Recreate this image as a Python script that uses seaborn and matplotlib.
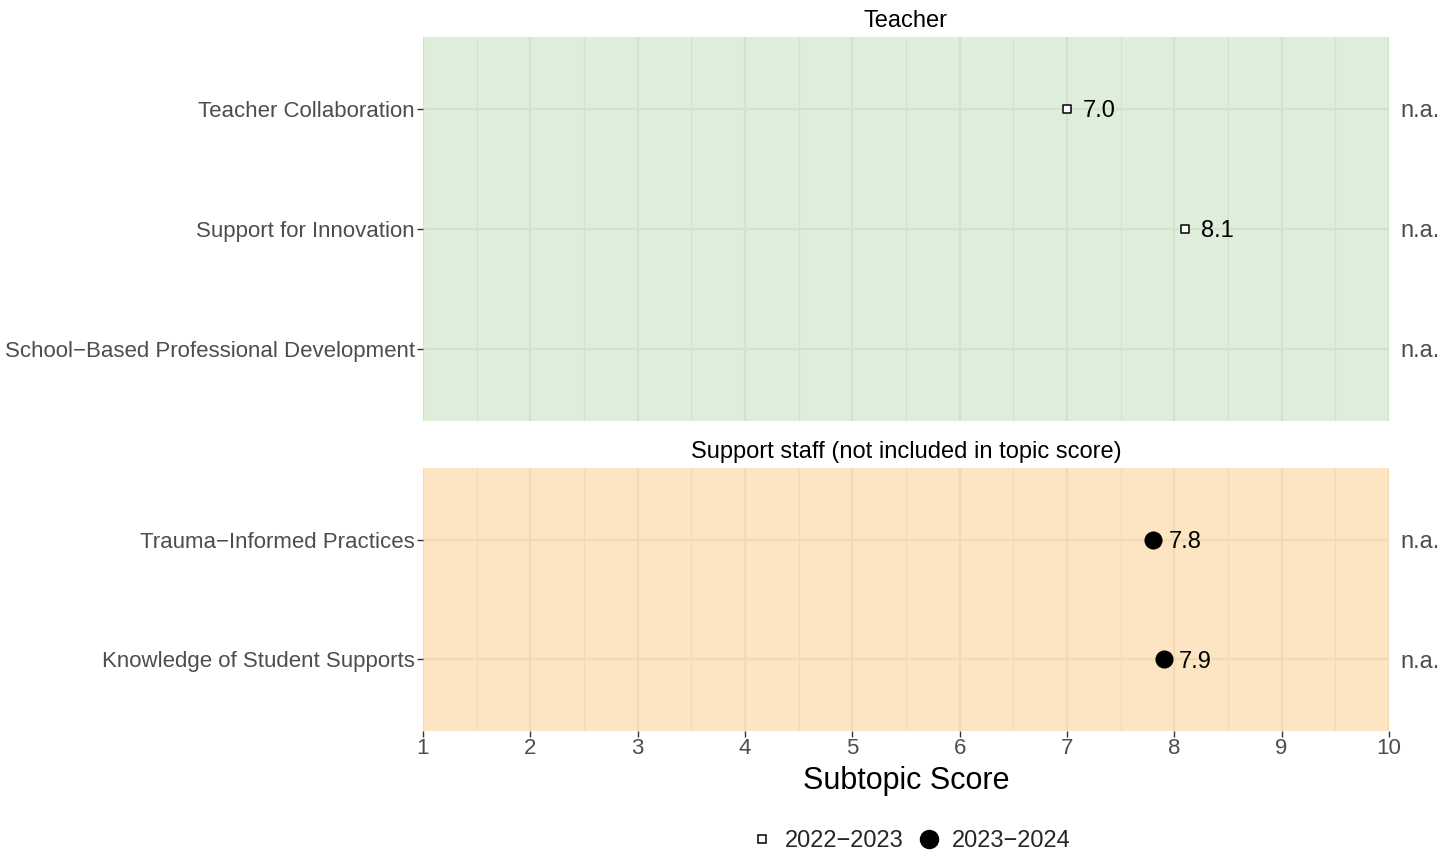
import pandas as pd
import matplotlib.pyplot as plt
import seaborn as sns

# ------------------------------
# Data
# ------------------------------
teacher_items = ["Teacher Collaboration", "Support for Innovation",
                 "School\u2212Based Professional Development"]
teacher_2223 = [7.0, 8.1, None]
teacher_2324 = [None, None, None]

staff_items = ["Trauma\u2212Informed Practices", "Knowledge of Student Supports"]
staff_2223 = [None, None]
staff_2324 = [7.8, 7.9]

years = ["2022\u22122023", "2023\u22122024"]
x_ticks = [1, 2, 3, 4, 5, 6, 7, 8, 9, 10]

sns.set_theme(style="white")
plt.rcParams["font.family"] = ["Liberation Sans", "DejaVu Sans"]

fig = plt.figure(figsize=(14.55, 8.52), dpi=100)

panels = [
    ("Teacher", teacher_items, teacher_2223, teacher_2324, "#dfeddb", "#d2e3cd",
     [0.2907, 0.5059, 0.6639, 0.4507]),
    ("Support staff (not included in topic score)", staff_items, staff_2223, staff_2324,
     "#fde5c3", "#f2dab6", [0.2907, 0.1420, 0.6639, 0.3087]),
]

for title, items, v1, v2, bg, gridc, pos in panels:
    ax = fig.add_axes(pos)
    ax.set_facecolor(bg)
    rows = []
    for i, item in enumerate(items):
        rows.append({"item": item, "y": i, "year": years[0], "score": v1[i]})
        rows.append({"item": item, "y": i, "year": years[1], "score": v2[i]})
    df = pd.DataFrame(rows).dropna(subset=["score"])

    d1 = df[df["year"] == years[0]]
    d2 = df[df["year"] == years[1]]
    if len(d1):
        sns.scatterplot(data=d1, x="score", y="y", marker="s", s=30, color="white",
                        edgecolor="black", linewidth=1.1, ax=ax, zorder=3, legend=False)
    if len(d2):
        sns.scatterplot(data=d2, x="score", y="y", marker="o", s=170, color="black",
                        edgecolor="black", linewidth=0, ax=ax, zorder=3, legend=False)
    for _, r in df.iterrows():
        ax.text(r["score"] + 0.145, r["y"], f"{r['score']:.1f}", va="center_baseline",
                ha="left", fontsize=17, color="black", zorder=4)

    # n.a. labels on the right
    for i, item in enumerate(items):
        ax.text(1.0115, i, "n.a.", transform=ax.get_yaxis_transform(),
                va="center_baseline", ha="left", fontsize=17, color="#4d4d4d",
                clip_on=False)

    ax.set_xlim(1, 10)
    ax.set_ylim(len(items) - 0.4, -0.6)
    ax.set_yticks(range(len(items)))
    ax.set_yticklabels(items)
    ax.set_xticks(x_ticks)
    ax.set_xticks([x + 0.5 for x in x_ticks[:-1]], minor=True)
    ax.grid(True, which="major", color=gridc, linewidth=1.6, zorder=0)
    ax.grid(True, which="minor", axis="x", color=gridc, linewidth=0.8, zorder=0)
    ax.set_axisbelow(True)
    for s in ax.spines.values():
        s.set_visible(False)
    ax.tick_params(axis="y", which="major", left=True, length=4, width=1,
                   color="#333333", labelsize=16, labelcolor="#4d4d4d", pad=2)
    ax.set_xlabel("")
    ax.set_ylabel("")
    ax.set_title(title, fontsize=17, color="black", pad=7)
    if title == "Teacher":
        ax.tick_params(axis="x", which="both", bottom=False, labelbottom=False)
    else:
        ax.tick_params(axis="x", which="major", bottom=True, length=4, width=1,
                       color="#333333", labelsize=16, labelcolor="#4d4d4d", pad=1)
        ax.tick_params(axis="x", which="minor", bottom=False)
        ax.set_xlabel("Subtopic Score", fontsize=22, color="black", labelpad=5)

# ------------------------------
# Legend
# ------------------------------
h1 = plt.Line2D([], [], marker="s", linestyle="", markersize=5.5, markerfacecolor="white",
                markeredgecolor="black", markeredgewidth=1.1)
h2 = plt.Line2D([], [], marker="o", linestyle="", markersize=13, markerfacecolor="black",
                markeredgecolor="black")
fig.legend([h1, h2], years, loc="center", bbox_to_anchor=(0.625, 0.013), ncol=2,
           frameon=False, fontsize=17, handletextpad=0.35, columnspacing=0.5,
           handlelength=1.2)

fig.savefig("out.png", dpi=100)
